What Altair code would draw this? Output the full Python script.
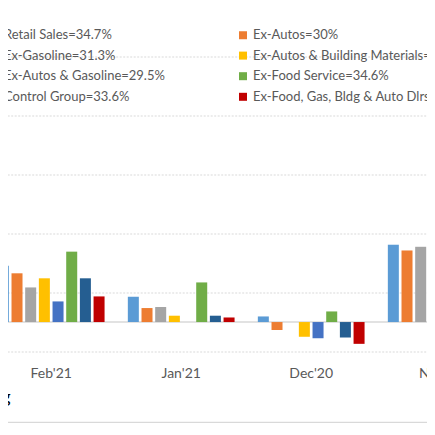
import altair as alt
import pandas as pd

months = ["Feb'21", "Jan'21", "Dec'20", "Nov'20"]
series = [
    "Retail Sales",
    "Ex-Autos",
    "Ex-Gasoline",
    "Ex-Autos & Building Materials",
    "Ex-Autos & Gasoline",
    "Ex-Food Service",
    "Control Group",
    "Ex-Food, Gas, Bldg & Auto Dlrs",
]
shares = ["34.7%", "30%", "31.3%", "30.9%", "29.5%", "34.6%", "33.6%", "31.8%"]
colors = ["#5B9BD5", "#ED7D31", "#A5A5A5", "#FFC000", "#4472C4", "#70AD47", "#255E91", "#C00000"]

# values per series, in month order Feb'21, Jan'21, Dec'20, Nov'20
retail_sales = [3.83, 1.72, 0.38, 5.25]
ex_autos = [3.31, 0.95, -0.54, 4.86]
ex_gasoline = [2.35, 1.02, 0.0, 5.11]
ex_autos_bldg = [2.97, 0.43, -1.00, 4.91]
ex_autos_gas = [1.40, 0.0, -1.10, 4.50]
ex_food_service = [4.78, 2.69, 0.72, 5.30]
control_group = [2.97, 0.43, -1.05, 4.80]
ex_food_gas_bldg_auto = [1.74, 0.31, -1.48, 4.40]

all_values = [retail_sales, ex_autos, ex_gasoline, ex_autos_bldg,
              ex_autos_gas, ex_food_service, control_group, ex_food_gas_bldg_auto]
labels = [f"{s}={p}" for s, p in zip(series, shares)]

rows = []
for lab, vals in zip(labels, all_values):
    for m, v in zip(months, vals):
        rows.append({"month": m, "label": lab, "value": v})
df = pd.DataFrame(rows)

FONT = "Lato"
GRID = "#D9D9D9"
TXT = "#595959"

bars = alt.Chart(df).mark_bar().encode(
    x=alt.X("month:N", sort=months,
            scale=alt.Scale(domain=months, range=[-21.8, 498.2],
                            paddingInner=0.179, paddingOuter=0.0895),
            axis=alt.Axis(title=None, ticks=False, domain=False, labelAngle=0,
                          labelPadding=14.5, labelFont=FONT, labelFontSize=14,
                          labelColor=TXT)),
    xOffset=alt.XOffset("label:N", sort=labels,
                        scale=alt.Scale(domain=labels, paddingInner=0.195, paddingOuter=0)),
    y=alt.Y("value:Q",
            scale=alt.Scale(domain=[-2, 20], nice=False, zero=False),
            axis=alt.Axis(title=None, labels=False, ticks=False, domain=False,
                          values=list(range(-2, 21)), gridColor=GRID,
                          gridDash=[2, 1.5], gridWidth=1)),
    color=alt.Color("label:N", sort=labels,
                    scale=alt.Scale(domain=labels, range=colors),
                    legend=alt.Legend(title=None, orient="none", legendX=-20.5, legendY=1,
                                      direction="horizontal", columns=2,
                                      symbolType="square", symbolSize=64,
                                      symbolStrokeWidth=0, labelFont=FONT,
                                      labelFontSize=13, labelColor=TXT, labelLimit=400,
                                      columnPadding=71, rowPadding=6.6, labelOffset=3.5)),
)

zero = alt.Chart(pd.DataFrame({"y": [0]})).mark_rule(color=GRID, strokeWidth=1.5).encode(
    y="y:Q"
)

border = alt.Chart(pd.DataFrame({"y": [0]})).mark_rule(color=GRID, strokeWidth=1.5).encode(
    x=alt.value(-10), x2=alt.value(440), y=alt.value(395)
)

source = alt.Chart(pd.DataFrame({"t": ["Source: Bloomberg"]})).mark_text(
    align="right", baseline="middle", fontSize=18, font=FONT, color="#000000"
).encode(text="t:N", x=alt.value(2.5), y=alt.value(370.5))

chart = alt.layer(zero, bars, border, source).properties(
    width=419, height=324,
    autosize=alt.AutoSizeParams(type="none"),
    padding={"left": 0, "top": 19.5, "right": 0, "bottom": 71.5},
    background="white",
).configure_view(stroke=None)

chart.save("out.html", embed_options={"renderer": "svg", "actions": False})
